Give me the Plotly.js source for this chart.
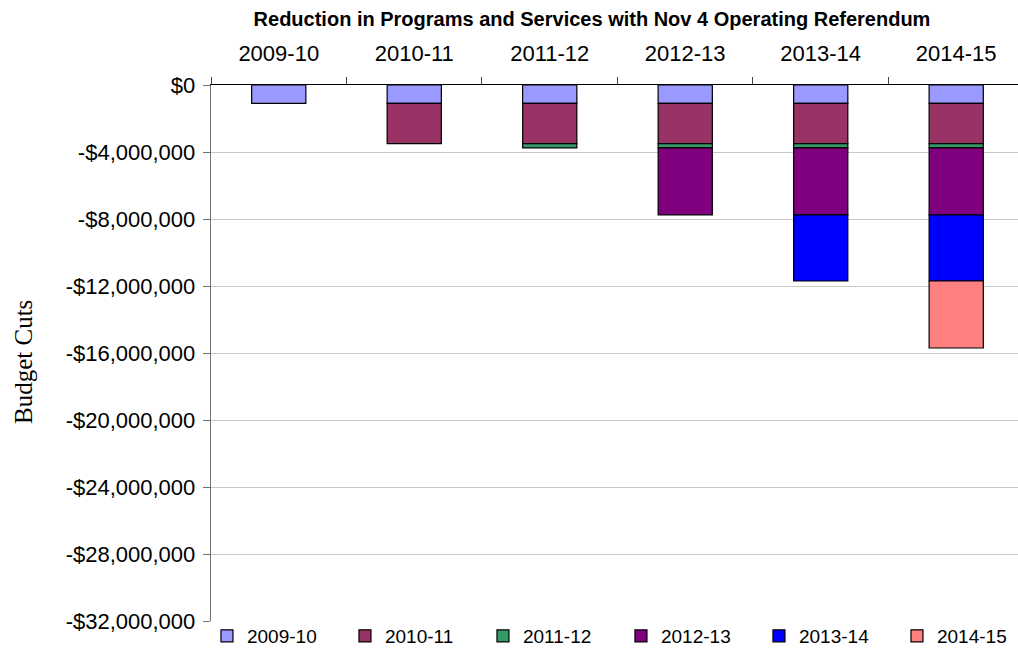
<!DOCTYPE html>
<html>
<head>
<meta charset="utf-8">
<script src="https://cdn.plot.ly/plotly-3.0.1.min.js"></script>
<style>html,body{margin:0;padding:0;background:#fff;}#chart{width:1018px;height:651px;}</style>
</head>
<body>
<div id="chart"></div>
<script>
const categories = ["2009-10", "2010-11", "2011-12", "2012-13", "2013-14", "2014-15"];
const seriesNames = ["2009-10", "2010-11", "2011-12", "2012-13", "2013-14", "2014-15"];
// Reduction introduced in each year (carried forward into later years)
const cut2009 = [-1100000, -1100000, -1100000, -1100000, -1100000, -1100000];
const cut2010 = [null, -2400000, -2400000, -2400000, -2400000, -2400000];
const cut2011 = [null, null, -250000, -250000, -250000, -250000];
const cut2012 = [null, null, null, -4000000, -4000000, -4000000];
const cut2013 = [null, null, null, null, -3950000, -3950000];
const cut2014 = [null, null, null, null, null, -4000000];
const seriesValues = [cut2009, cut2010, cut2011, cut2012, cut2013, cut2014];
const seriesColors = ["#9999FF", "#993366", "#339966", "#800080", "#0000FF", "#FF8080"];
const yTickVals = [0, -4000000, -8000000, -12000000, -16000000, -20000000, -24000000, -28000000, -32000000];
const yTickText = ["$0", "-$4,000,000", "-$8,000,000", "-$12,000,000", "-$16,000,000", "-$20,000,000", "-$24,000,000", "-$28,000,000", "-$32,000,000"];

const SANS = "Liberation Sans, Arial, sans-serif";

const traces = seriesNames.map((name, i) => ({
  type: "bar",
  name: name,
  x: categories,
  y: seriesValues[i],
  marker: { color: seriesColors[i], line: { color: "#000000", width: 1.2 } },
  hoverinfo: "x+y+name"
}));

const layout = {
  width: 1018,
  height: 651,
  margin: { l: 211, r: 0, t: 85, b: 30, autoexpand: false },
  paper_bgcolor: "#ffffff",
  plot_bgcolor: "#ffffff",
  barmode: "relative",
  bargap: 0.6,
  font: { family: SANS, color: "#000000", size: 20 },
  title: {
    text: "<b>Reduction in Programs and Services with Nov 4 Operating Referendum</b>",
    font: { family: SANS, size: 20, color: "#000000" },
    xref: "container", yref: "container",
    x: 592 / 1018, y: 1 - 19 / 651, xanchor: "center", yanchor: "middle"
  },
  xaxis: {
    type: "category",
    side: "top",
    range: [-0.5, 5.456],
    tickson: "boundaries",
    ticks: "outside",
    ticklen: 7,
    tickcolor: "#404040",
    ticklabelstandoff: 14,
    showline: true,
    linecolor: "#000000",
    linewidth: 1.3,
    showgrid: false,
    zeroline: false,
    tickfont: { size: 22, family: SANS },
    fixedrange: true
  },
  yaxis: {
    range: [-32000000, 0],
    tickmode: "array",
    tickvals: yTickVals,
    ticktext: yTickText,
    ticks: "outside",
    ticklen: 7,
    tickcolor: "#707070",
    ticklabelstandoff: 3,
    showline: true,
    linecolor: "#707070",
    linewidth: 1.3,
    showgrid: true,
    gridcolor: "#c8c8c8",
    gridwidth: 1,
    zeroline: false,
    tickfont: { size: 22, family: SANS },
    fixedrange: true
  },
  legend: {
    orientation: "h",
    x: -0.005, xanchor: "left",
    y: -0.0634, yanchor: "bottom",
    traceorder: "normal",
    entrywidth: 93,
    entrywidthmode: "pixels",
    itemwidth: 30,
    font: { size: 19, family: SANS },
    bgcolor: "rgba(0,0,0,0)"
  },
  annotations: [{
    text: "Budget Cuts",
    xref: "paper", yref: "paper",
    x: (23 - 211) / 807, y: (621 - 362) / 536,
    xanchor: "center", yanchor: "middle",
    textangle: -90,
    showarrow: false,
    font: { family: "Liberation Serif, Times New Roman, serif", size: 25, color: "#000000" }
  }],
  showlegend: true
};

Plotly.newPlot("chart", traces, layout, { displayModeBar: false, staticPlot: true });
</script>
</body>
</html>
